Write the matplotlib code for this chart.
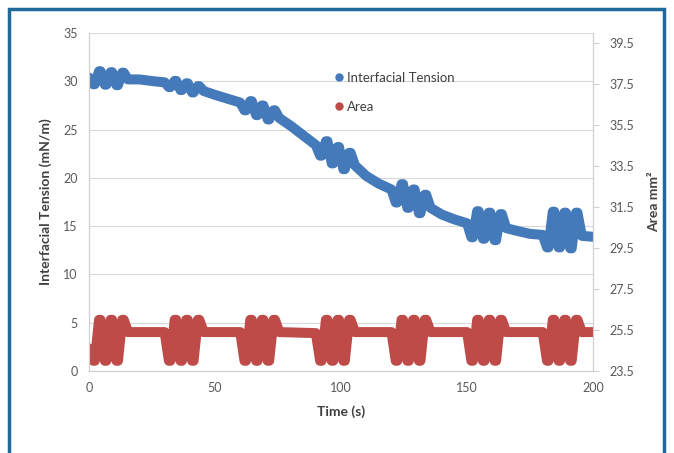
import numpy as np
import matplotlib
matplotlib.use("Agg")
import matplotlib.pyplot as plt
from matplotlib.lines import Line2D
from matplotlib.patches import Rectangle

plt.rcParams['font.family'] = ['Lato', 'DejaVu Sans']

# Interfacial tension (left axis, mN/m)
# each burst: start, then flat-ish low/high turning points, then end
tension_time = [0, 1.7, 2.3, 4.0, 4.6, 6.3, 6.9, 8.6, 9.2, 10.9, 11.5, 13.2, 13.8, 15.5, 20, 26,
                30, 31.7, 32.3, 34.0, 34.6, 36.3, 36.9, 38.6, 39.2, 40.9, 41.5, 43.2, 43.8, 45.5, 50, 55,
                60, 61.7, 62.3, 64.0, 64.6, 66.3, 66.9, 68.6, 69.2, 70.9, 71.5, 73.2, 73.8, 75.5, 80, 85,
                90, 91.7, 92.3, 94.0, 94.6, 96.3, 96.9, 98.6, 99.2, 100.9, 101.5, 103.2, 103.8, 105.5, 110, 115,
                120, 121.7, 122.3, 124.0, 124.6, 126.3, 126.9, 128.6, 129.2, 130.9, 131.5, 133.2, 133.8, 135.5, 140, 145,
                150, 151.7, 152.3, 154.0, 154.6, 156.3, 156.9, 158.6, 159.2, 160.9, 161.5, 163.2, 163.8, 165.5, 170, 175,
                180, 181.7, 182.3, 184.0, 184.6, 186.3, 186.9, 188.6, 189.2, 190.9, 191.5, 193.2, 193.8, 195.5, 200]
tension = [30.4, 29.7, 29.7, 31.05, 31.05, 29.65, 29.65, 30.95, 30.95, 29.6, 29.6, 30.9, 30.9, 30.2, 30.2, 30.0,
           29.9, 29.4, 29.4, 30.05, 30.05, 29.1, 29.1, 29.8, 29.8, 28.85, 28.85, 29.5, 29.5, 29.0, 28.6, 28.2,
           27.8, 27.0, 27.0, 27.95, 27.95, 26.5, 26.5, 27.5, 27.5, 26.05, 26.05, 27.0, 27.0, 26.2, 25.4, 24.4,
           23.4, 22.3, 22.3, 23.8, 23.8, 21.5, 21.5, 23.2, 23.2, 20.9, 20.9, 22.6, 22.6, 21.3, 20.2, 19.4,
           18.8, 17.45, 17.45, 19.35, 19.35, 16.9, 16.9, 18.8, 18.8, 16.35, 16.35, 18.25, 18.25, 16.9, 16.2, 15.7,
           15.3, 13.85, 13.85, 16.55, 16.55, 13.7, 13.7, 16.4, 16.4, 13.55, 13.55, 16.25, 16.25, 14.8, 14.5, 14.2,
           14.1, 12.8, 12.8, 16.5, 16.5, 12.8, 12.8, 16.4, 16.4, 12.7, 12.7, 16.4, 16.4, 14.0, 13.9]

# Drop area (right axis, mm^2)
area_time = [0, 1.7, 2.3, 4.0, 4.6, 6.3, 6.9, 8.6, 9.2, 10.9, 11.5, 13.2, 13.8, 15.5,
             30, 31.7, 32.3, 34.0, 34.6, 36.3, 36.9, 38.6, 39.2, 40.9, 41.5, 43.2, 43.8, 45.5,
             60, 61.7, 62.3, 64.0, 64.6, 66.3, 66.9, 68.6, 69.2, 70.9, 71.5, 73.2, 73.8, 75.5,
             90, 91.7, 92.3, 94.0, 94.6, 96.3, 96.9, 98.6, 99.2, 100.9, 101.5, 103.2, 103.8, 105.5,
             120, 121.7, 122.3, 124.0, 124.6, 126.3, 126.9, 128.6, 129.2, 130.9, 131.5, 133.2, 133.8, 135.5,
             150, 151.7, 152.3, 154.0, 154.6, 156.3, 156.9, 158.6, 159.2, 160.9, 161.5, 163.2, 163.8, 165.5,
             180, 181.7, 182.3, 184.0, 184.6, 186.3, 186.9, 188.6, 189.2, 190.9, 191.5, 193.2, 193.8, 195.5, 200]
area = [24.6, 24.0, 24.0, 26.0, 26.0, 24.0, 24.0, 26.0, 26.0, 24.0, 24.0, 26.0, 26.0, 25.4,
        25.4, 24.0, 24.0, 26.0, 26.0, 24.0, 24.0, 26.0, 26.0, 24.0, 24.0, 26.0, 26.0, 25.4,
        25.4, 24.0, 24.0, 26.0, 26.0, 24.0, 24.0, 26.0, 26.0, 24.0, 24.0, 26.0, 26.0, 25.4,
        25.35, 24.0, 24.0, 26.0, 26.0, 24.0, 24.0, 26.0, 26.0, 24.0, 24.0, 26.0, 26.0, 25.4,
        25.4, 24.0, 24.0, 26.0, 26.0, 24.0, 24.0, 26.0, 26.0, 24.0, 24.0, 26.0, 26.0, 25.4,
        25.4, 24.0, 24.0, 26.0, 26.0, 24.0, 24.0, 26.0, 26.0, 24.0, 24.0, 26.0, 26.0, 25.4,
        25.4, 24.0, 24.0, 26.0, 26.0, 24.0, 24.0, 26.0, 26.0, 24.0, 24.0, 26.0, 26.0, 25.4, 25.4]

left_ticks = [0, 5, 10, 15, 20, 25, 30, 35]
right_ticks = [23.5, 25.5, 27.5, 29.5, 31.5, 33.5, 35.5, 37.5, 39.5]
x_ticks = [0, 50, 100, 150, 200]

blue = '#4479BA'
red = '#BE4B48'
txt = '#404040'

fig = plt.figure(figsize=(6.74, 4.53), dpi=100)
ax = fig.add_axes([0.132, 0.181, 0.748, 0.746])
ax2 = ax.twinx()

# outer blue frame
fig.patches.append(Rectangle((9 / 674, -0.05), 655 / 674, 1.05 - 9 / 453,
                             transform=fig.transFigure, fill=False,
                             edgecolor='#1F6A9A', linewidth=2.5))

ax.plot(tension_time, tension, color=blue, lw=7.2,
        solid_joinstyle='round', solid_capstyle='round')
ax2.plot(area_time, area, color=red, lw=7.2,
         solid_joinstyle='round', solid_capstyle='round')

ax.set_xlim(0, 200)
ax.set_ylim(0, 35)
ax2.set_ylim(23.5, 40)
ax.set_xticks(x_ticks)
ax.set_yticks(left_ticks)
ax2.set_yticks(right_ticks)
ax2.set_yticklabels([f'{v:.1f}' for v in right_ticks])

ax.grid(axis='y', color='#D9D9D9', lw=0.8)
ax.set_axisbelow(True)
for a in (ax, ax2):
    a.spines['top'].set_visible(False)
    for s in ('left', 'right', 'bottom'):
        a.spines[s].set_color('#D0D0D0')
        a.spines[s].set_linewidth(0.8)
ax.tick_params(axis='both', length=0, labelsize=9, labelcolor='#595959', pad=8)
ax2.tick_params(axis='y', length=4, color='#D0D0D0', labelsize=9,
                labelcolor='#595959', pad=8)

ax.set_xlabel('Time (s)', fontsize=10, fontweight='bold', color=txt, labelpad=8)
ax.set_ylabel('Interfacial Tension (mN/m)', fontsize=10, fontweight='bold',
              color=txt, labelpad=8)
ax2.set_ylabel('Area mm\u00b2', fontsize=10, fontweight='bold', color=txt,
               rotation=90, labelpad=10)

handles = [Line2D([], [], ls='none', marker='o', ms=5, color=blue),
           Line2D([], [], ls='none', marker='o', ms=5, color=red)]
leg = fig.legend(handles, ['Interfacial Tension', 'Area'],
                 loc='upper left', bbox_to_anchor=(485 / 674 - 0.24, 1 - 60 / 453),
                 frameon=False, fontsize=9.5, labelspacing=1.3,
                 handlelength=0.6, handletextpad=0.3)
for t in leg.get_texts():
    t.set_color(txt)

fig.savefig('out.png', dpi=100)
